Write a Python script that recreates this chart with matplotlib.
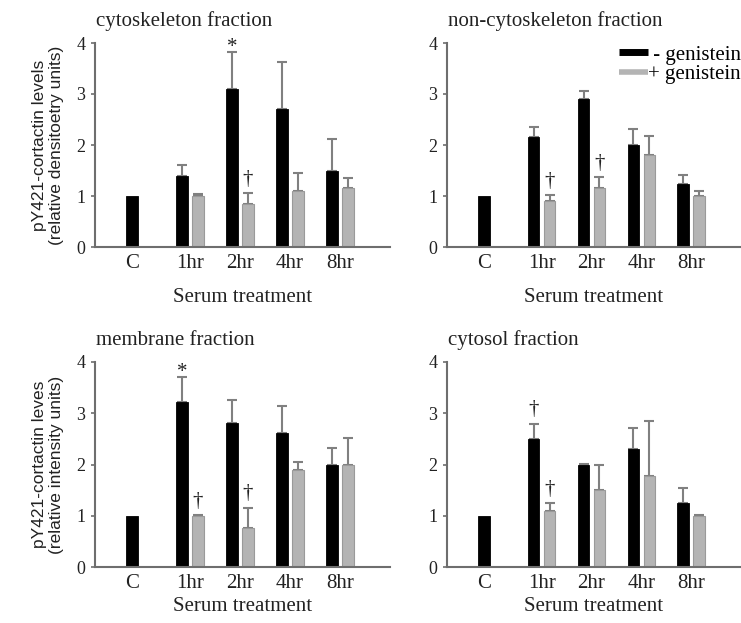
import numpy as np
import matplotlib
matplotlib.use("Agg")
import matplotlib.pyplot as plt
from matplotlib.lines import Line2D

plt.rcParams['font.family'] = ['Liberation Serif', 'DejaVu Serif']

categories = ["C", "1hr", "2hr", "4hr", "8hr"]
series_names = [" - genistein", "+ genistein"]

cyto_minus = [1.0, 1.40, 3.10, 2.70, 1.50]
cyto_minus_err = [0.0, 0.20, 0.72, 0.92, 0.62]
cyto_plus = [np.nan, 1.00, 0.85, 1.10, 1.16]
cyto_plus_err = [np.nan, 0.03, 0.20, 0.35, 0.20]

noncyto_minus = [1.0, 2.16, 2.90, 2.00, 1.24]
noncyto_minus_err = [0.0, 0.20, 0.15, 0.31, 0.18]
noncyto_plus = [np.nan, 0.91, 1.16, 1.81, 1.00]
noncyto_plus_err = [np.nan, 0.10, 0.21, 0.36, 0.09]

memb_minus = [1.0, 3.21, 2.81, 2.61, 2.00]
memb_minus_err = [0.0, 0.50, 0.44, 0.54, 0.33]
memb_plus = [np.nan, 1.00, 0.76, 1.90, 2.00]
memb_plus_err = [np.nan, 0.02, 0.40, 0.15, 0.51]

cytosol_minus = [1.0, 2.50, 2.00, 2.30, 1.25]
cytosol_minus_err = [0.0, 0.30, 0.01, 0.41, 0.30]
cytosol_plus = [np.nan, 1.10, 1.50, 1.77, 1.00]
cytosol_plus_err = [np.nan, 0.14, 0.50, 1.08, 0.01]

# significance marks: (category index, series index, symbol)
cyto_marks = [(2, 0, "*"), (2, 1, "\u2020")]
noncyto_marks = [(1, 1, "\u2020"), (2, 1, "\u2020")]
memb_marks = [(1, 0, "*"), (1, 1, "\u2020"), (2, 1, "\u2020")]
cytosol_marks = [(1, 0, "\u2020"), (1, 1, "\u2020")]

panels = [
    ("cytoskeleton fraction", cyto_minus, cyto_minus_err, cyto_plus, cyto_plus_err,
     cyto_marks, "pY421-cortactin levels\n(relative densitoetry units)"),
    ("non-cytoskeleton fraction", noncyto_minus, noncyto_minus_err, noncyto_plus,
     noncyto_plus_err, noncyto_marks, None),
    ("membrane fraction", memb_minus, memb_minus_err, memb_plus, memb_plus_err,
     memb_marks, "pY421-cortactin leves\n(relative intensity units)"),
    ("cytosol fraction", cytosol_minus, cytosol_minus_err, cytosol_plus,
     cytosol_plus_err, cytosol_marks, None),
]

W, H = 741, 623
fig = plt.figure(figsize=(W / 100, H / 100), dpi=100)

rects = [
    (95 / W, 1 - 247 / H, 295 / W, 204 / H),
    (447 / W, 1 - 247 / H, 294 / W, 204 / H),
    (95 / W, 1 - 567 / H, 295 / W, 205 / H),
    (447 / W, 1 - 567 / H, 294 / W, 205 / H),
]
xlabel_pads = [11, 11, 3, 3]

black = "#000000"
grey = "#b4b4b4"
err_col = "#808080"
spine_col = "#6e6e6e"
off = 0.16
bw = 0.23

x = np.arange(len(categories), dtype=float)

for rect, xpad, (title, mv, me, pv, pe, marks, ylab) in zip(rects, xlabel_pads, panels):
    ax = fig.add_axes(rect)
    mv = np.array(mv, float); me = np.array(me, float)
    pv = np.array(pv, float); pe = np.array(pe, float)
    xm = x - off
    xp = x + off
    ax.bar(xm, mv, width=bw, color=black, edgecolor=black, linewidth=0.6, zorder=2)
    okp = ~np.isnan(pv)
    ax.bar(xp[okp], pv[okp], width=bw, color=grey, edgecolor="#9a9a9a",
           linewidth=0.8, zorder=2)
    okm = me > 0
    ax.errorbar(xm[okm], mv[okm], yerr=[np.zeros(okm.sum()), me[okm]], fmt="none",
                ecolor=err_col, elinewidth=1.5, capsize=3.5, capthick=1.5, zorder=1)
    okpe = okp & (np.nan_to_num(pe) > 0)
    ax.errorbar(xp[okpe], pv[okpe], yerr=[np.zeros(okpe.sum()), pe[okpe]], fmt="none",
                ecolor=err_col, elinewidth=1.5, capsize=3.5, capthick=1.5, zorder=1)

    for ci, si, sym in marks:
        if si == 0:
            xx, top = xm[ci], mv[ci] + me[ci]
        else:
            xx, top = xp[ci], pv[ci] + pe[ci]
        dy = -0.1 if sym == "*" else 0.08
        ax.text(xx, top + dy, sym, ha="center", va="bottom", fontsize=15,
                color="#222222", zorder=3)

    ax.set_xlim(-0.9, 5.0)
    ax.set_ylim(0, 4)
    ax.set_yticks([0, 1, 2, 3, 4])
    ax.set_yticklabels(["0", "1", "2", "3", "4"])
    tick_pos = [x[0] - off] + list(x[1:])
    ax.set_xticks(tick_pos)
    ax.set_xticklabels(categories)
    ax.tick_params(axis="x", length=0, labelsize=15, pad=5, colors="#222222")
    ax.tick_params(axis="y", length=3, width=1.2, color=spine_col, labelsize=13,
                   pad=4, labelcolor="#222222")
    for s in ("top", "right"):
        ax.spines[s].set_visible(False)
    for s in ("left", "bottom"):
        ax.spines[s].set_color(spine_col)
        ax.spines[s].set_linewidth(1.5)
    ax.set_xlabel("Serum treatment", fontsize=15, labelpad=xpad, color="#222222")
    ax.set_title(title, loc="left", fontsize=15, pad=12, color="#222222", x=0.005)
    if ylab:
        ax.set_ylabel(ylab, fontsize=12.5, labelpad=9, linespacing=1.12, color="#222222",
                      family=["Liberation Sans Narrow", "Liberation Sans", "DejaVu Sans"])

    if title.startswith("non-cyto"):
        handles = [Line2D([0], [0], color=black, lw=5, solid_capstyle="butt"),
                   Line2D([0], [0], color=grey, lw=4, solid_capstyle="butt")]
        ax.legend(handles, series_names, loc="upper right",
                  bbox_to_anchor=(1.0, 0.99), frameon=False, fontsize=15,
                  handlelength=1.4, handletextpad=0.0, labelspacing=0.0,
                  borderpad=0.0, borderaxespad=0.0)

fig.savefig("out.png", dpi=100)
